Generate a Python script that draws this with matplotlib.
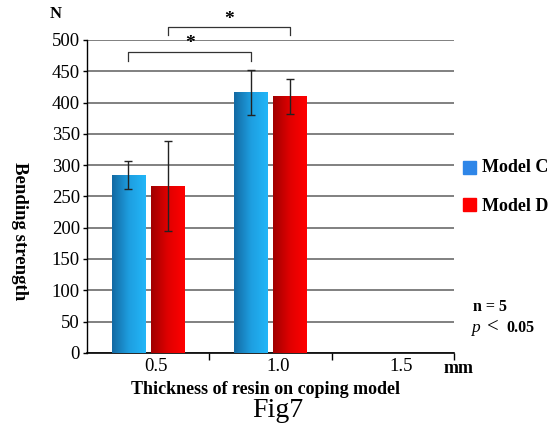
import numpy as np
import matplotlib
matplotlib.use('Agg')
import matplotlib.pyplot as plt

plt.rcParams['font.family'] = ['Liberation Serif', 'DejaVu Serif']

thickness = ['0.5', '1.0', '1.5']
model_c = [284, 416]
model_c_err = [22, 36]
model_d = [266, 410]
model_d_err = [72, 28]
yticks = list(range(0, 501, 50))

fig = plt.figure(figsize=(5.53, 4.34), dpi=100)
ax = fig.add_axes([0.157, 0.187, 0.664, 0.721])

w = 0.27
off = 0.16
blue_grad = matplotlib.colors.LinearSegmentedColormap.from_list('b', ['#136aa3', '#1e9ee0', '#22b6f8'])
red_grad = matplotlib.colors.LinearSegmentedColormap.from_list('r', ['#a00000', '#e00000', '#ff0000'])
grad = np.linspace(0, 1, 64).reshape(1, -1)


def gradient_bar(x, h, cmap):
    ax.imshow(grad, cmap=cmap, extent=[x - w / 2, x + w / 2, 0, h],
              aspect='auto', zorder=3, interpolation='bilinear')


for i in range(len(model_c)):
    gradient_bar(i - off, model_c[i], blue_grad)
    gradient_bar(i + off, model_d[i], red_grad)
    ax.errorbar(i - off, model_c[i], yerr=model_c_err[i], color='#222222',
                lw=1, capsize=3, capthick=1, zorder=4)
    ax.errorbar(i + off, model_d[i], yerr=model_d_err[i], color='#222222',
                lw=1, capsize=3, capthick=1, zorder=4)
ax.set_xlim(-0.5, 2.5)
ax.set_ylim(0, 500)

ax.set_yticks(yticks)
ax.set_yticklabels([str(v) for v in yticks], fontsize=13.5)
ax.yaxis.grid(True, color='#808080', lw=1.4)
ax.set_axisbelow(True)
ax.tick_params(axis='y', length=3, width=1, pad=2)

ax.set_xticks([0.5, 1.5, 2.5])
ax.set_xticklabels(['', '', ''])
ax.tick_params(axis='x', which='major', length=5, width=1)
ax.set_xticks([0.065, 1.065, 2.065], minor=True)
ax.set_xticklabels(thickness, minor=True, fontsize=13.5)
ax.tick_params(axis='x', which='minor', length=0, pad=4)

for s in ['top', 'right']:
    ax.spines[s].set_visible(False)
ax.spines['left'].set_linewidth(1)
ax.spines['bottom'].set_linewidth(1.2)


# significance brackets
def bracket(x1, x2, y, yl, star_y):
    ax.plot([x1, x1, x2, x2], [yl, y, y, yl], color='#333333', lw=0.9, clip_on=False)
    ax.text((x1 + x2) / 2, star_y, '*', ha='center', va='center', fontsize=14,
            fontweight='bold', clip_on=False)


bracket(0 - off, 1 - off, 481, 466, 494)
bracket(0 + off, 1 + off, 520, 508, 532)

fig.text(0.101, 0.967, 'N', fontsize=12, fontweight='bold', ha='center', va='center')
fig.text(0.830, 0.152, 'mm', fontsize=13, fontweight='bold', ha='center', va='center')
fig.text(0.480, 0.102, 'Thickness of resin on coping model', fontsize=13,
         fontweight='bold', ha='center', va='center')
fig.text(0.036, 0.467, 'Bending strength', fontsize=13.5, fontweight='bold',
         rotation=270, ha='center', va='center')
fig.text(0.502, 0.053, 'Fig7', fontsize=20, ha='center', va='center')

# legend
fig.patches.append(plt.Rectangle((0.837, 0.600), 0.024, 0.030, color='#2e86e8',
                                 transform=fig.transFigure))
fig.text(0.872, 0.613, 'Model C', fontsize=13, fontweight='bold', va='center')
fig.patches.append(plt.Rectangle((0.837, 0.513), 0.024, 0.030, color='#ff0000',
                                 transform=fig.transFigure))
fig.text(0.872, 0.525, 'Model D', fontsize=13, fontweight='bold', va='center')

fig.text(0.855, 0.293, 'n = 5', fontsize=11.5, fontweight='bold', va='center')
fig.text(0.852, 0.244, 'p', fontsize=12.5, style='italic', va='center')
fig.text(0.880, 0.246, '<', fontsize=15, va='center')
fig.text(0.916, 0.244, '0.05', fontsize=11.5, fontweight='bold', va='center')

fig.savefig('out.png', dpi=100)
